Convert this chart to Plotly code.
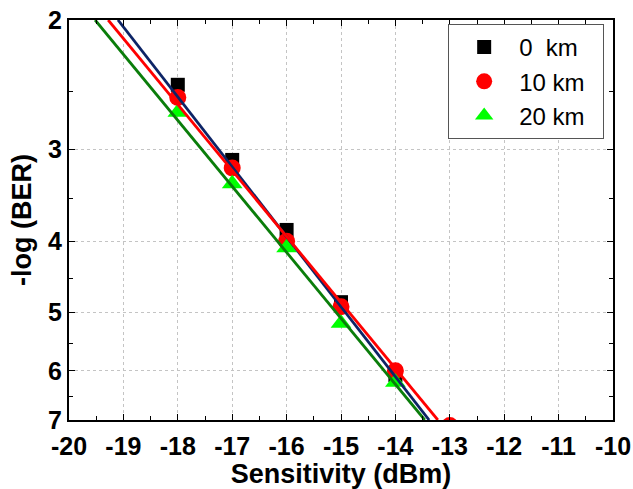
import numpy as np
import plotly.graph_objects as go

# Data
power_dbm = [-18, -17, -16, -15, -14]
ber_0km = [2.45, 3.10, 3.86, 4.84, 6.08]
power_10km = [-18, -17, -16, -15, -14, -13]
ber_10km = [2.55, 3.18, 4.00, 4.91, 6.00, 7.12]
ber_20km = [2.67, 3.34, 4.08, 5.17, 6.22]

# Linear fit lines (end points)
fit_y = [2, 7]
fit_0km_x = [-19.10, -13.38]
fit_10km_x = [-19.28, -13.22]
fit_20km_x = [-19.52, -13.46]

x_ticks = list(range(-20, -9))
y_ticks = [2, 3, 4, 5, 6, 7]
y_minor = [2.5, 3.5, 4.5, 5.5, 6.5]
legend_names = ["0\u00a0\u00a0km\u00a0\u00a0", "10 km\u00a0\u00a0", "20 km\u00a0\u00a0"]

fig = go.Figure()
fig.add_trace(go.Scatter(x=power_dbm, y=ber_0km, mode="markers", name=legend_names[0],
                         marker=dict(symbol="square", size=14, color="black")))
fig.add_trace(go.Scatter(x=power_10km, y=ber_10km, mode="markers", name=legend_names[1],
                         marker=dict(symbol="circle", size=17, color="#ff0000")))
fig.add_trace(go.Scatter(x=power_dbm, y=ber_20km, mode="markers", name=legend_names[2],
                         marker=dict(symbol="triangle-up", size=18, color="#00ff00")))

for fx, col in [(fit_0km_x, "#0d2466"), (fit_10km_x, "#ff0000"), (fit_20km_x, "#0a7d0a")]:
    fig.add_trace(go.Scatter(x=fx, y=fit_y, mode="lines", showlegend=False,
                             line=dict(color=col, width=2.8), hoverinfo="skip"))

axis_common = dict(showline=True, linecolor="black", linewidth=2, mirror="allticks",
                   ticks="inside", ticklen=6, tickwidth=1, tickcolor="black",
                   showgrid=True, gridcolor="#c4c4c4", griddash="dot", gridwidth=1,
                   zeroline=False, automargin=False,
                   tickfont=dict(family="Liberation Sans, Arial", size=25, color="black"),
                   title_font=dict(family="Liberation Sans, Arial", size=27, color="black"))

fig.update_xaxes(range=[-20, -10], tickvals=x_ticks,
                 ticktext=[f"<b>{v}</b>" for v in x_ticks],
                 ticklabelstandoff=3,
                 title_text="<b>Sensitivity (dBm)</b>", title_standoff=2,
                 minor=dict(ticks="inside", ticklen=4, dtick=0.5, tickcolor="black", showgrid=False),
                 **axis_common)
fig.update_yaxes(type="log", range=[np.log10(7), np.log10(2)], tickvals=y_ticks,
                 ticktext=[f"<b>{v}</b>" for v in y_ticks],
                 title_text="<b>-log (BER)</b>", title_standoff=9,
                 minor=dict(ticks="inside", ticklen=4, tickvals=y_minor, tickcolor="black", showgrid=False),
                 **axis_common)

fig.update_layout(
    width=633, height=489,
    margin=dict(l=69, r=20, t=20, b=69),
    plot_bgcolor="white", paper_bgcolor="white",
    showlegend=True,
    legend=dict(x=0.697, y=0.99, xanchor="left", yanchor="top",
                bordercolor="#555555", borderwidth=1, bgcolor="white",
                font=dict(family="Liberation Sans, Arial", size=24, color="black"),
                itemwidth=60, tracegroupgap=0),
)

fig.write_html("out.html")
